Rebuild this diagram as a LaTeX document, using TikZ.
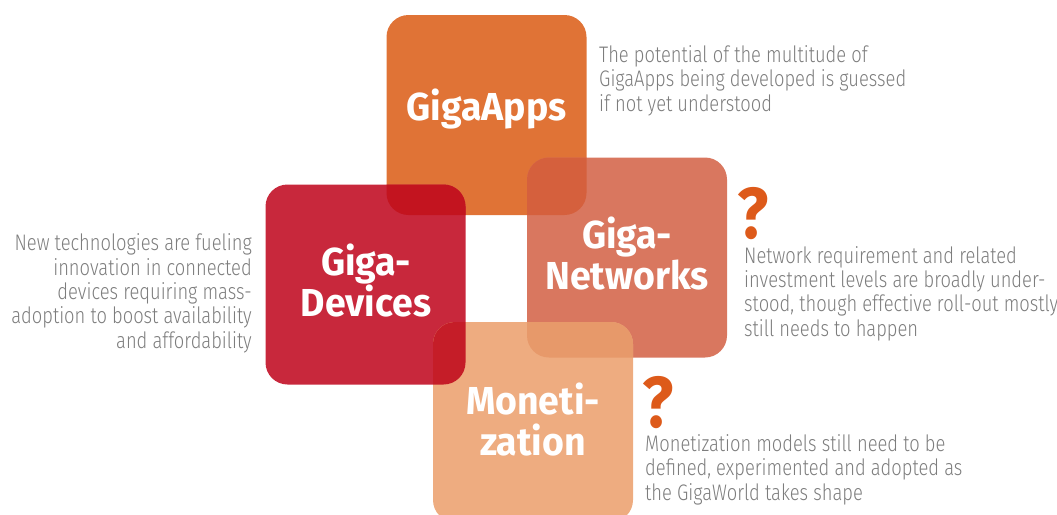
\documentclass[tikz,border=0pt]{standalone}
\usepackage{fontspec}
\setmainfont{Fira Sans}
\newfontfamily\bodyfont[FakeStretch=0.815]{Fira Sans Light}
\newfontfamily\titlefont[FakeStretch=0.96]{Fira Sans Bold}
\newfontfamily\qfont[FakeStretch=0.9]{Fira Sans Bold}
\definecolor{appsc}{HTML}{E07336}
\definecolor{devc}{HTML}{C8283C}
\definecolor{netc}{HTML}{D9775F}
\definecolor{monc}{HTML}{EEAC80}
\definecolor{appdevc}{HTML}{C3141F}
\definecolor{appnetc}{HTML}{D5603D}
\definecolor{netmonc}{HTML}{E7996A}
\definecolor{devmonc}{HTML}{C51D28}
\definecolor{bodyc}{HTML}{7D7D7D}
\definecolor{qc}{HTML}{DD5A1A}
\begin{document}
\begin{tikzpicture}[x=1pt,y=-1pt,
  box/.style={minimum width=200pt, minimum height=200pt, rounded corners=22pt, inner sep=0pt, outer sep=0pt},
  title/.style={text=white, font=\titlefont\fontsize{39}{41}\selectfont, align=center, anchor=base, inner sep=0pt},
  body/.style={text=bodyc, font=\bodyfont\fontsize{22.5}{24.3}\selectfont, inner sep=0pt},
  qmark/.style={text=qc, font=\qfont\fontsize{72}{72}\selectfont, anchor=base west, inner sep=0pt, text depth=0pt}]
\useasboundingbox (0,0) rectangle (1057,514);
\clip (0,0) rectangle (1057,514);
% boxes
\node[box, fill=appsc] (apps) at (486.5,115) {};
\node[box, fill=devc] (dev) at (365.5,284.5) {};
\node[box, fill=netc] (net) at (627,257.5) {};
\node[box, fill=monc] (mon) at (533,422) {};
% overlaps
\begin{scope}
  \clip[rounded corners=22pt] (apps.north west) rectangle (apps.south east);
  \fill[appdevc, rounded corners=22pt] (dev.north west) rectangle (dev.south east);
\end{scope}
\begin{scope}
  \clip[rounded corners=22pt] (apps.north west) rectangle (apps.south east);
  \fill[appnetc, rounded corners=22pt] (net.north west) rectangle (net.south east);
\end{scope}
\begin{scope}
  \clip[rounded corners=22pt] (net.north west) rectangle (net.south east);
  \fill[netmonc, rounded corners=22pt] (mon.north west) rectangle (mon.south east);
\end{scope}
\begin{scope}
  \clip[rounded corners=22pt] (dev.north west) rectangle (dev.south east);
  \fill[devmonc, rounded corners=22pt] (mon.north west) rectangle (mon.south east);
\end{scope}
% titles (anchor = baseline of last line)
\node[title] (tapps) at (486.5,120) {GigaApps};
\node[title] (tdev) at (366,316) {Giga-\\Devices};
\node[title] (tnet) at (627,289) {Giga-\\Networks};
\node[title] (tmon) at (533,455) {Moneti-\\zation};
% question marks
\node[qmark] (qnet) at (737,238) {?};
\node[qmark] (qmon) at (642,427) {?};
% body texts (anchor = baseline of last line)
\node[body, anchor=base west, align=left] (bapps) at (599,111)
  {The potential of the multitude of\\GigaApps being developed is guessed\\if not yet understood};
\node[body, anchor=base east, align=right] (bdev) at (252,348)
  {New technologies are fueling\\innovation in connected\\devices requiring mass-\\adoption to boost availability\\and affordability};
\node[body, anchor=base west, align=left] (bnet) at (744,336)
  {Network requirement and related\\investment levels are broadly under-\\stood, though effective roll-out mostly\\still needs to happen};
\node[body, anchor=base west, align=left] (bmon) at (645,500)
  {Monetization models still need to be\\defined, experimented and adopted as\\the GigaWorld takes shape};
\end{tikzpicture}
\end{document}
